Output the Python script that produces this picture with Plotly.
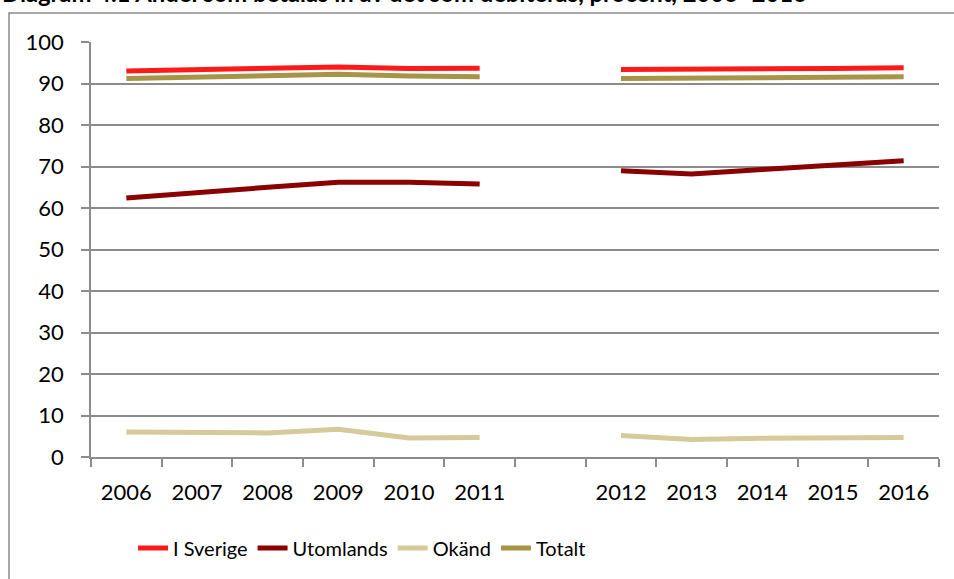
import plotly.graph_objects as go

categories = ["2006", "2007", "2008", "2009", "2010", "2011", " ", "2012", "2013", "2014", "2015", "2016"]

i_sverige = [93.0, 93.4, 93.8, 94.0, 93.6, 93.7, None, 93.4, 93.4, 93.5, 93.6, 93.8]
utomlands = [62.4, 63.8, 65.0, 66.2, 66.2, 65.8, None, 69.0, 68.2, 69.3, 70.4, 71.4]
okand = [6.0, 5.9, 5.8, 6.7, 4.6, 4.7, None, 5.2, 4.2, 4.5, 4.5, 4.7]
totalt = [91.2, 91.6, 92.0, 92.2, 91.8, 91.6, None, 91.2, 91.2, 91.3, 91.5, 91.6]

series_names = ["I Sverige", "Utomlands", "Okänd", "Totalt"]
series_values = [i_sverige, utomlands, okand, totalt]
series_colors = ["#FF1A1A", "#8B0000", "#D6CA9B", "#A89447"]

title_text = "Diagram 4.1 Andel som betalas in av det som debiteras, procent, 2006–2016"

FONT = "Lato"
GRID = "#8C8C8C"

fig = go.Figure()
for name, vals, col in zip(series_names, series_values, series_colors):
    fig.add_trace(go.Scatter(
        x=categories, y=vals, name=name, mode="lines",
        line=dict(color=col, width=5), connectgaps=False,
    ))

W, H = 954, 579
L, R, T, B = 91, 15, 42, 122
pw, ph = W - L - R, H - T - B

def px_x(p):
    return (p - L) / pw

def px_y(p):
    return (H - B - p) / ph

fig.update_layout(
    width=W, height=H,
    margin=dict(l=L, r=R, t=T, b=B, autoexpand=False),
    paper_bgcolor="white", plot_bgcolor="white",
    font=dict(family=FONT, size=22, color="black"),
    showlegend=True,
    legend=dict(
        orientation="h", xref="container", yref="container",
        x=133 / W, xanchor="left", y=1 - 548 / H, yanchor="middle",
        font=dict(family=FONT, size=20, color="black"),
        bgcolor="rgba(0,0,0,0)", itemwidth=30, tracegroupgap=0,
    ),
    xaxis=dict(
        type="category", categoryorder="array", categoryarray=categories,
        range=[-0.5, len(categories) - 0.5], automargin=False,
        showgrid=False, showline=True, linecolor=GRID, linewidth=1.5,
        ticks="outside", ticklen=8, tickcolor=GRID, tickwidth=1.5,
        tickson="boundaries", ticklabelstandoff=15,
        tickfont=dict(family=FONT, size=22, color="black"),
        fixedrange=True,
    ),
    yaxis=dict(
        range=[0, 100], dtick=10, tick0=0, automargin=False,
        showgrid=True, gridcolor=GRID, gridwidth=1.5,
        showline=True, linecolor=GRID, linewidth=1.5,
        ticks="outside", ticklen=8, tickcolor=GRID, tickwidth=1.5,
        zeroline=False, ticklabelstandoff=13,
        tickfont=dict(family=FONT, size=22, color="black"),
        fixedrange=True,
    ),
    shapes=[dict(
        type="rect", xref="paper", yref="paper",
        x0=px_x(9), x1=px_x(1000), y0=px_y(700), y1=px_y(13),
        line=dict(color=GRID, width=1.5), fillcolor="rgba(0,0,0,0)", layer="below",
    )],
    annotations=[dict(
        text="<b>" + title_text + "</b>", xref="paper", yref="paper",
        x=px_x(0), xanchor="left", y=px_y(-7), yanchor="middle",
        showarrow=False, font=dict(family=FONT, size=23.8, color="black"),
    )],
)

fig.write_html(
    "out.html",
    config={"displayModeBar": False},
    post_script="document.body.style.margin='0';",
)
